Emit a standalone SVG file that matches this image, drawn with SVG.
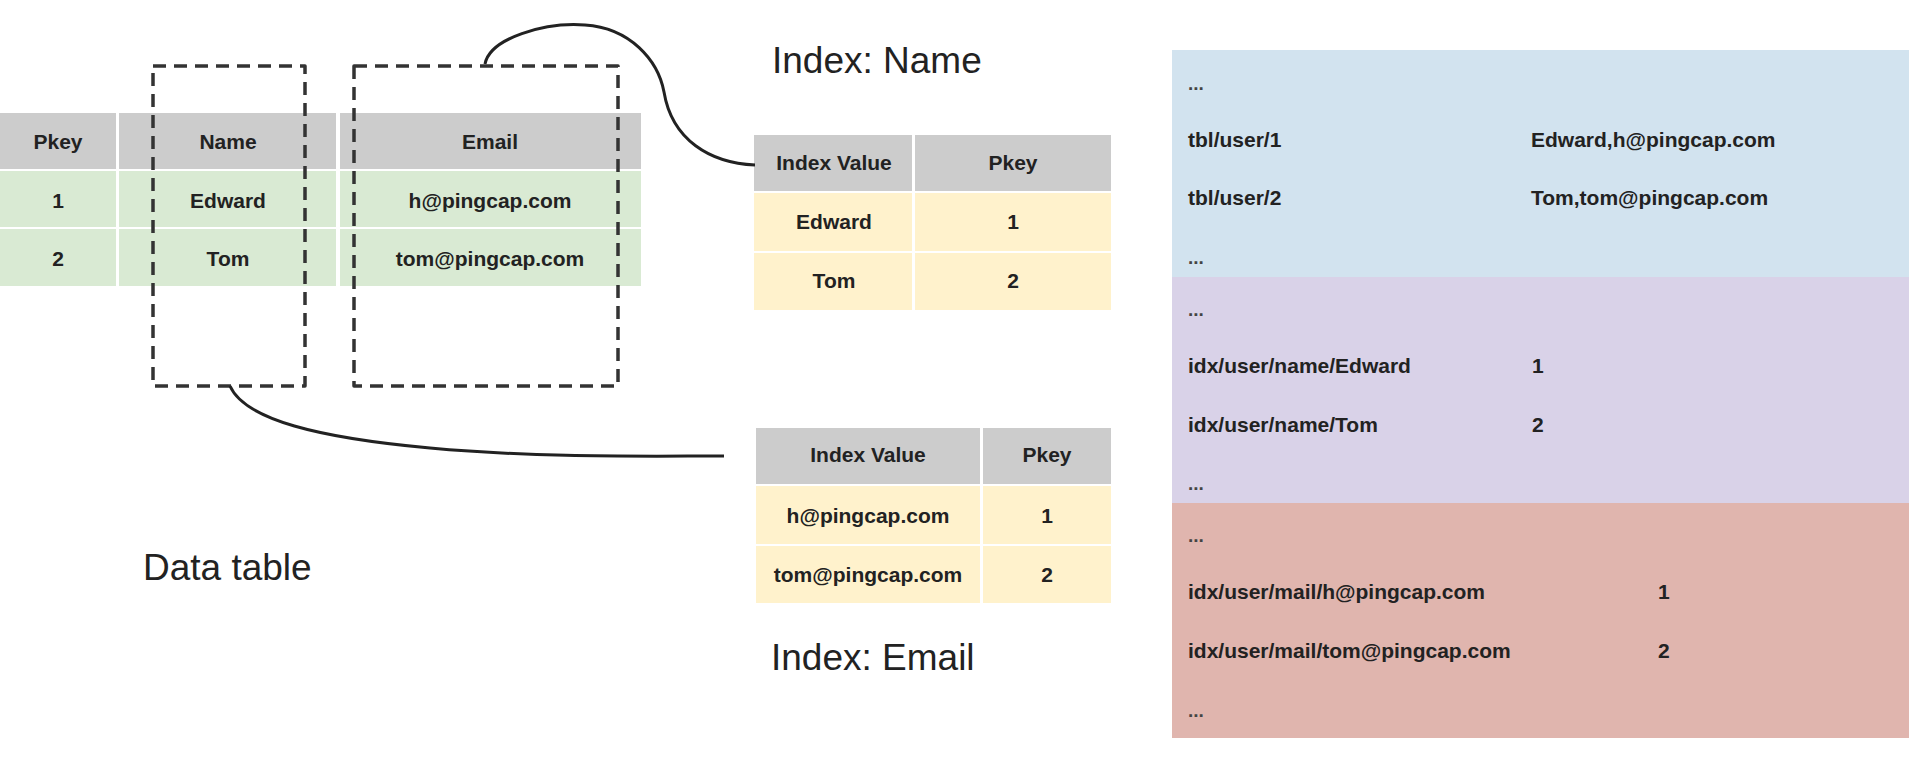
<svg xmlns="http://www.w3.org/2000/svg" width="1920" height="768" viewBox="0 0 1920 768">
<defs>
<style>
.hdr{fill:#cccccc}
.grn{fill:#d9ead3}
.yel{fill:#fff2cc}
.t{font-family:"Liberation Sans",Arial,sans-serif;font-weight:bold;font-size:21px;fill:#222}
.dots{font-family:"Liberation Sans",Arial,sans-serif;font-weight:bold;font-size:19px;fill:#444}
.c{text-anchor:middle}
.big{font-family:"Liberation Sans",Arial,sans-serif;font-size:37px;fill:#222}
.dash{fill:none;stroke:#333;stroke-width:3.5;stroke-dasharray:13 8;stroke-linejoin:round}
.conn{fill:none;stroke:#222;stroke-width:3}
</style>
</defs>
<rect width="1920" height="768" fill="#ffffff"/>

<g id="data-table">
<rect class="hdr" x="0" y="113" width="116" height="56"/>
<rect class="hdr" x="119" y="113" width="217" height="56"/>
<rect class="hdr" x="340" y="113" width="301" height="56"/>
<rect class="grn" x="0" y="171" width="116" height="56"/>
<rect class="grn" x="119" y="171" width="217" height="56"/>
<rect class="grn" x="340" y="171" width="301" height="56"/>
<rect class="grn" x="0" y="229" width="116" height="57"/>
<rect class="grn" x="119" y="229" width="217" height="57"/>
<rect class="grn" x="340" y="229" width="301" height="57"/>
<text class="t c" x="58" y="149">Pkey</text>
<text class="t c" x="228" y="149">Name</text>
<text class="t c" x="490" y="149">Email</text>
<text class="t c" x="58" y="208">1</text>
<text class="t c" x="228" y="208">Edward</text>
<text class="t c" x="490" y="208">h@pingcap.com</text>
<text class="t c" x="58" y="266">2</text>
<text class="t c" x="228" y="266">Tom</text>
<text class="t c" x="490" y="266">tom@pingcap.com</text>
<text class="big" x="143" y="580">Data table</text>
</g>

<g id="name-column-box">
<rect class="dash" x="153" y="66" width="152" height="320"/>
</g>
<g id="email-column-box">
<rect class="dash" x="354" y="66" width="264" height="320"/>
</g>

<g id="index-name">
<text class="big" x="772" y="73">Index: Name</text>
<rect class="hdr" x="754" y="135" width="158" height="56"/>
<rect class="hdr" x="915" y="135" width="196" height="56"/>
<rect class="yel" x="754" y="193" width="158" height="58"/>
<rect class="yel" x="915" y="193" width="196" height="58"/>
<rect class="yel" x="754" y="253" width="158" height="57"/>
<rect class="yel" x="915" y="253" width="196" height="57"/>
<text class="t c" x="834" y="170">Index Value</text>
<text class="t c" x="1013" y="170">Pkey</text>
<text class="t c" x="834" y="229">Edward</text>
<text class="t c" x="1013" y="229">1</text>
<text class="t c" x="834" y="288">Tom</text>
<text class="t c" x="1013" y="288">2</text>
</g>

<g id="index-email">
<rect class="hdr" x="756" y="428" width="224" height="56"/>
<rect class="hdr" x="983" y="428" width="128" height="56"/>
<rect class="yel" x="756" y="486" width="224" height="58"/>
<rect class="yel" x="983" y="486" width="128" height="58"/>
<rect class="yel" x="756" y="546" width="224" height="57"/>
<rect class="yel" x="983" y="546" width="128" height="57"/>
<text class="t c" x="868" y="462">Index Value</text>
<text class="t c" x="1047" y="462">Pkey</text>
<text class="t c" x="868" y="523">h@pingcap.com</text>
<text class="t c" x="1047" y="523">1</text>
<text class="t c" x="868" y="582">tom@pingcap.com</text>
<text class="t c" x="1047" y="582">2</text>
<text class="big" x="771" y="670">Index: Email</text>
</g>

<g id="kv-store">
<rect x="1172" y="50" width="737" height="227" fill="#d2e3ef"/>
<rect x="1172" y="277" width="737" height="226" fill="#d9d2e8"/>
<rect x="1172" y="503" width="737" height="235" fill="#e0b5ae"/>
<text class="dots" x="1188" y="90">...</text>
<text class="t" x="1188" y="147">tbl/user/1</text>
<text class="t" x="1531" y="147">Edward,h@pingcap.com</text>
<text class="t" x="1188" y="205">tbl/user/2</text>
<text class="t" x="1531" y="205">Tom,tom@pingcap.com</text>
<text class="dots" x="1188" y="264">...</text>
<text class="dots" x="1188" y="316">...</text>
<text class="t" x="1188" y="373">idx/user/name/Edward</text>
<text class="t" x="1532" y="373">1</text>
<text class="t" x="1188" y="432">idx/user/name/Tom</text>
<text class="t" x="1532" y="432">2</text>
<text class="dots" x="1188" y="490">...</text>
<text class="dots" x="1188" y="542">...</text>
<text class="t" x="1188" y="599">idx/user/mail/h@pingcap.com</text>
<text class="t" x="1658" y="599">1</text>
<text class="t" x="1188" y="658">idx/user/mail/tom@pingcap.com</text>
<text class="t" x="1658" y="658">2</text>
<text class="dots" x="1188" y="717">...</text>
</g>

<g id="connectors">
<path class="conn" d="M485,64 C490,38 545,22 585,25 C630,28 658,60 664,92 C672,140 710,163 755,165"/>
<path class="conn" d="M230,386 C245,420 320,438 430,448 C540,458 640,456 724,456"/>
</g>
</svg>
